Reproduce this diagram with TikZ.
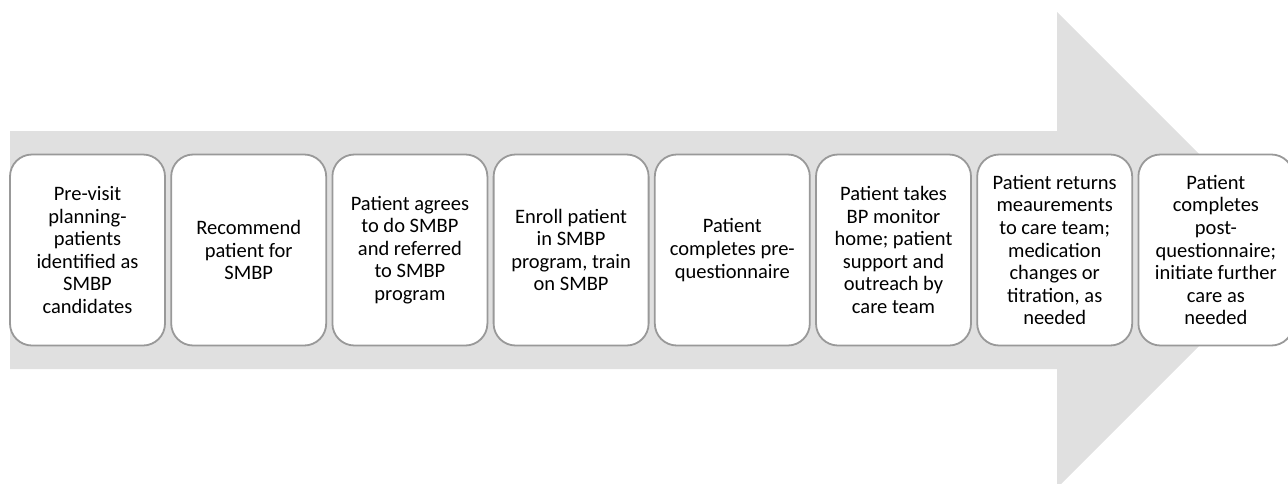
\documentclass[tikz,border=0pt]{standalone}
\usepackage{fontspec}
\setmainfont{Carlito}
\begin{document}
\begin{tikzpicture}[x=1pt,y=-1pt,
  stepbox/.style={draw=black!40, line width=1.8pt, fill=white, rounded corners=22pt,
    minimum width=155pt, minimum height=191pt, inner sep=0pt, align=center,
    font=\fontsize{20.5}{22.6}\selectfont, text=black},
]
\useasboundingbox (0,0) rectangle (1288,483);
\fill[black!12] (10,131) -- (1057,131) -- (1057,12) -- (1295,250) -- (1057,488) -- (1057,369) -- (10,369) -- cycle;
\node[stepbox] (s1) at (87.5,250) {Pre-visit\\planning-\\patients\\identified as\\SMBP\\candidates};
\node[stepbox] (s2) at (248.7,250) {Recommend\\patient for\\SMBP};
\node[stepbox] (s3) at (409.9,250) {Patient agrees\\to do SMBP\\and referred\\to SMBP\\program};
\node[stepbox] (s4) at (571.1,250) {Enroll patient\\in SMBP\\program, train\\on SMBP};
\node[stepbox] (s5) at (732.3,250) {Patient\\completes pre-\\questionnaire};
\node[stepbox] (s6) at (893.5,250) {Patient takes\\BP monitor\\home; patient\\support and\\outreach by\\care team};
\node[stepbox] (s7) at (1054.7,250) {Patient returns\\meaurements\\to care team;\\medication\\changes or\\titration, as\\needed};
\node[stepbox] (s8) at (1215.9,250) {Patient\\completes\\post-\\questionnaire;\\initiate further\\care as\\needed};
\end{tikzpicture}
\end{document}
